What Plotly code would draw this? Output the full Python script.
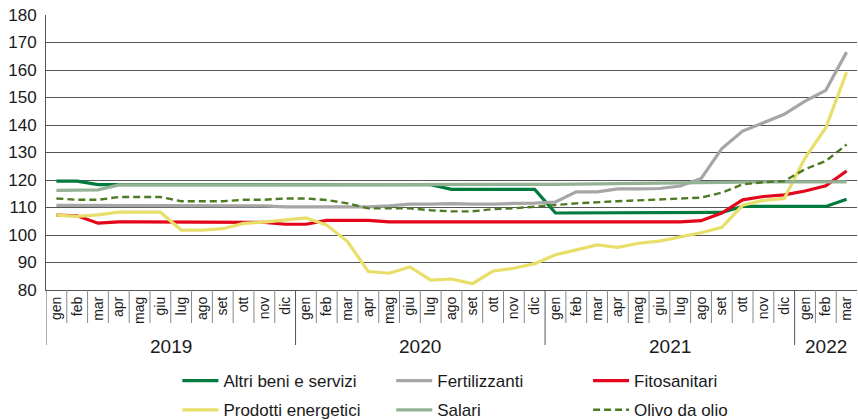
import plotly.graph_objects as go

months = ["gen", "feb", "mar", "apr", "mag", "giu", "lug", "ago", "set", "ott", "nov", "dic"]
years = ["2019", "2020", "2021", "2022"]
month_labels = months * 3 + months[:3]
year_of = ["2019"] * 12 + ["2020"] * 12 + ["2021"] * 12 + ["2022"] * 3
categories = [f"{m} {y}" for m, y in zip(month_labels, year_of)]

altri_beni = [119.6, 119.6, 118.3, 118.3, 118.3, 118.3, 118.3, 118.3, 118.3, 118.3, 118.3, 118.3,
              118.3, 118.3, 118.3, 118.3, 118.3, 118.3, 118.3, 116.6, 116.6, 116.6, 116.6, 116.6,
              108.0, 108.0, 108.0, 108.0, 108.0, 108.0, 108.0, 108.0, 108.2, 110.4, 110.4, 110.4,
              110.4, 110.4, 113.0]
fertilizzanti = [110.8, 110.8, 110.8, 110.8, 110.8, 110.8, 110.8, 110.8, 110.8, 110.8, 110.6, 110.2,
                 110.2, 110.2, 110.2, 110.2, 110.6, 111.2, 111.2, 111.4, 111.2, 111.2, 111.5, 111.6,
                 112.0, 115.7, 115.7, 116.8, 116.8, 116.9, 117.8, 120.5, 131.4, 137.8, 140.8, 143.9,
                 148.7, 152.6, 166.5]
fitosanitari = [107.2, 107.0, 104.3, 104.8, 104.8, 104.8, 104.8, 104.8, 104.8, 104.8, 104.6, 103.9,
                103.9, 105.3, 105.3, 105.3, 104.8, 104.8, 104.8, 104.8, 104.8, 104.8, 104.8, 104.8,
                104.8, 104.8, 104.8, 104.8, 104.8, 104.8, 104.8, 105.2, 108.0, 112.8, 114.0, 114.6,
                116.0, 117.9, 123.3]
prodotti_energetici = [107.2, 106.8, 107.3, 108.3, 108.3, 108.3, 101.8, 101.8, 102.3, 104.2, 104.7, 105.4,
                       106.2, 103.6, 97.6, 86.7, 86.1, 88.4, 83.6, 84.0, 82.3, 86.9, 87.9, 89.6,
                       92.8, 94.6, 96.4, 95.5, 97.0, 97.8, 99.3, 100.8, 102.8, 110.8, 112.6, 113.3,
                       128.0, 139.0, 159.2]
salari = [116.2, 116.2, 116.4, 118.2, 118.2, 118.2, 118.2, 118.2, 118.2, 118.2, 118.2, 118.2,
          118.2, 118.2, 118.2, 118.2, 118.2, 118.2, 118.2, 118.2, 118.2, 118.2, 118.2, 118.2,
          118.4, 118.5, 118.6, 118.7, 118.8, 119.0, 119.1, 119.2, 119.3, 119.3, 119.3, 119.3,
          119.3, 119.3, 119.3]
olivo_da_olio = [113.3, 112.8, 112.8, 113.8, 113.8, 113.8, 112.3, 112.3, 112.3, 112.8, 112.8, 113.3,
                 113.3, 112.7, 111.5, 109.7, 109.7, 109.7, 109.0, 108.6, 108.6, 109.4, 109.7, 110.2,
                 110.9, 111.5, 112.0, 112.3, 112.6, 112.9, 113.2, 113.6, 115.4, 118.4, 119.2, 119.6,
                 123.9, 126.9, 132.9]

y_ticks = [80, 90, 100, 110, 120, 130, 140, 150, 160, 170, 180]

FONT = "Liberation Sans Narrow, Arial Narrow, Liberation Sans, Arial, sans-serif"
TXT = "#1a1a1a"

series = [
    ("Altri beni e servizi", altri_beni, "#007a3d", "solid", 3.2, "legend"),
    ("Fertilizzanti", fertilizzanti, "#a6a6a6", "solid", 3.2, "legend2"),
    ("Fitosanitari", fitosanitari, "#e3051b", "solid", 3.2, "legend3"),
    ("Prodotti energetici", prodotti_energetici, "#e8de6a", "solid", 3.2, "legend"),
    ("Salari", salari, "#93b294", "solid", 3.2, "legend2"),
    ("Olivo da olio", olivo_da_olio, "#4d7a22", "7px,4px", 2.4, "legend3"),
]

fig = go.Figure()
for name, vals, color, dash, w, lg in series:
    fig.add_trace(go.Scatter(x=categories, y=vals, mode="lines", name=name,
                             line=dict(color=color, width=w, dash=dash),
                             legend=lg, legendgroup=name))

# tick separators below axis
shapes = []
for b in range(len(categories)):
    is_year = b == 0 or year_of[b] != year_of[b - 1]
    shapes.append(dict(type="line", xref="x", yref="paper",
                       x0=b - 0.5, x1=b - 0.5, y0=0, y1=-0.2 if is_year else -0.12,
                       line=dict(color="#555555" if is_year else "#888888", width=1)))

annotations = []
for yr in years:
    idx = [i for i, y in enumerate(year_of) if y == yr]
    annotations.append(dict(x=sum(idx) / len(idx), y=-0.205, xref="x", yref="paper",
                            text=yr, showarrow=False, yanchor="middle",
                            font=dict(family=FONT, size=19, color=TXT)))

legend_common = dict(orientation="v", font=dict(family=FONT, size=17, color=TXT),
                     bgcolor="rgba(0,0,0,0)", yanchor="top", xanchor="left",
                     itemwidth=36, tracegroupgap=4)

fig.update_layout(
    width=858, height=420,
    margin=dict(l=46, r=1, t=15, b=130, autoexpand=False),
    paper_bgcolor="white", plot_bgcolor="white",
    shapes=shapes, annotations=annotations,
    legend=dict(x=0.162, y=-0.266, **legend_common),
    legend2=dict(x=0.4257, y=-0.266, **legend_common),
    legend3=dict(x=0.6684, y=-0.266, **legend_common),
    xaxis=dict(type="category", categoryorder="array", categoryarray=categories,
               tickvals=categories, ticktext=month_labels, tickangle=-90,
               ticks="", showgrid=False, showline=True, linecolor="#555555", linewidth=1.3,
               automargin=False,
               tickfont=dict(family=FONT, size=14, color=TXT), range=[-0.5, len(categories) - 0.5]),
    yaxis=dict(range=[80, 180], tickvals=y_ticks, showgrid=True, gridcolor="#555555", gridwidth=1.4,
               zeroline=False, showline=True, linecolor="#555555", linewidth=1,
               ticks="", ticklabelstandoff=5, automargin=False,
               tickfont=dict(family=FONT, size=17, color=TXT)),
)

fig.write_html("out.html", config={"displayModeBar": False},
               post_script="document.body.style.margin='0';document.body.style.overflow='hidden';")
